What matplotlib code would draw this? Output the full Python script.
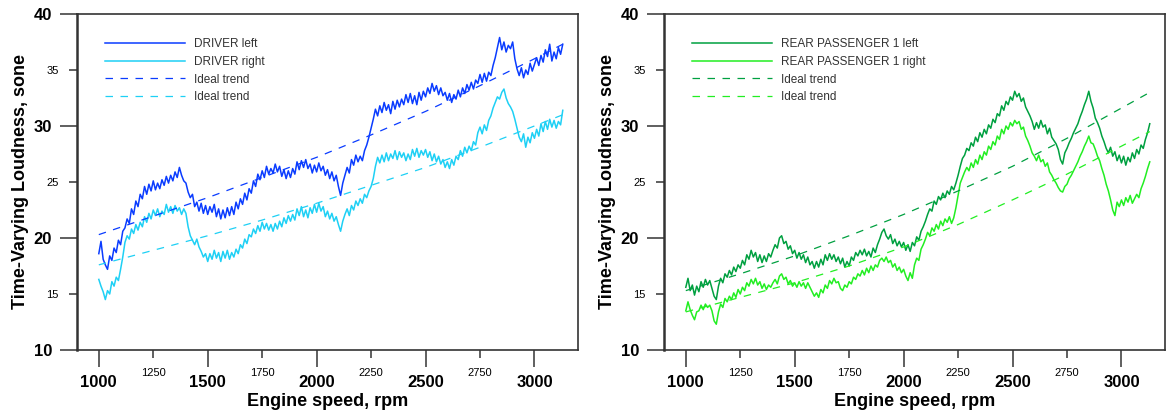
"""
Time-varying loudness vs engine speed for the driver and rear passenger 1
seats, left and right ear, with the ideal (target) trend for each.
"""

import numpy as np
import matplotlib.pyplot as plt

plt.rcParams["font.family"] = ["Liberation Sans", "DejaVu Sans"]

# ---------------------------------------------------------------------------
# Data (10 rpm steps from 1000 rpm)
# ---------------------------------------------------------------------------

rpm = np.arange(1000, 3131, 10)

driver_left = [
    18.6, 19.7, 18.1, 17.6, 17.2, 18.4, 18.0, 19.1, 18.7, 19.8,
    19.4, 20.6, 20.9, 21.7, 21.3, 22.6, 22.1, 23.3, 22.8, 23.9,
    23.5, 24.6, 23.9, 24.8, 24.2, 25.1, 24.3, 24.9, 24.4, 25.2,
    24.7, 25.5, 24.9, 25.6, 25.1, 25.9, 25.4, 26.3, 25.6, 25.1,
    24.9, 24.1, 23.6, 23.9, 22.8, 23.2, 22.4, 23.1, 22.2, 22.9,
    22.1, 22.8, 22.3, 23.0, 21.9, 22.6, 21.7, 22.5, 21.8, 22.7,
    22.0, 22.8, 22.1, 23.2, 22.6, 23.5, 23.0, 24.0, 23.4, 24.4,
    24.0, 25.1, 24.6, 25.7, 25.2, 26.0, 25.4, 26.4, 25.7, 26.2,
    25.8, 26.6, 25.9, 26.4, 25.5, 26.1, 25.3, 26.0, 25.4, 26.2,
    25.7, 26.8, 26.1, 26.9, 26.3, 27.0, 26.2, 26.6, 25.8, 26.5,
    25.9, 26.7, 26.0, 26.4, 25.6, 26.1, 25.3, 25.9, 25.1, 25.6,
    24.6, 23.8, 24.9, 25.6, 26.3, 25.8, 27.0, 26.5, 27.4, 26.8,
    27.3, 26.9, 27.8, 28.3, 29.0, 29.8, 30.6, 31.5, 30.9, 31.8,
    31.2, 32.1, 31.4, 31.9, 31.1, 32.2, 31.5, 32.3, 31.7, 32.4,
    31.9, 32.8, 32.1, 32.9, 32.0, 32.7, 31.9, 33.0, 32.3, 33.1,
    32.6, 33.4, 32.9, 33.8, 33.1, 33.6, 32.8, 33.4, 32.7, 33.0,
    32.3, 32.9, 32.1, 32.8, 32.4, 33.2, 32.6, 33.4, 32.9, 33.7,
    33.2, 33.9, 33.3, 34.1, 33.8, 34.6, 33.9, 34.7, 34.0, 34.8,
    34.5, 35.4, 36.1, 37.0, 37.9, 36.8, 37.5, 36.6, 37.2, 36.9,
    37.5, 36.0, 35.1, 34.5, 35.2, 34.3, 35.0, 34.6, 35.6, 34.9,
    35.5, 36.1, 35.4, 36.3, 35.7, 36.8, 36.2, 37.3, 35.8, 36.6,
    36.0, 37.0, 36.4, 37.3,
]

driver_right = [
    16.3, 15.7, 15.2, 14.5, 15.3, 15.0, 16.1, 15.7, 16.5, 16.2,
    17.2, 18.3, 19.6, 20.2, 19.9, 20.8, 20.4, 21.2, 20.7, 21.4,
    21.0, 21.9, 21.4, 22.2, 21.7, 22.5, 22.0, 22.6, 21.9, 22.4,
    22.1, 23.0, 22.3, 22.8, 22.2, 22.9, 22.4, 22.7, 22.1, 22.6,
    22.2, 21.0, 20.2, 19.8, 19.4, 19.9, 19.2, 18.8, 18.3, 18.6,
    17.9, 18.6, 18.1, 18.9, 18.2, 18.7, 17.9, 18.8, 18.2, 18.9,
    18.1, 18.7, 18.3, 19.0, 18.6, 19.4, 19.1, 19.9, 19.5, 20.3,
    20.1, 20.8, 20.4, 21.1, 20.6, 21.4, 20.8, 21.3, 20.7, 21.2,
    20.6, 21.3, 20.8, 21.5, 21.0, 21.8, 21.3, 22.0, 21.5, 22.1,
    21.6, 22.6, 22.0, 22.8, 21.9, 22.5, 21.8, 22.7, 22.2, 23.0,
    22.3, 23.1, 22.4, 22.8, 21.9, 22.4, 21.7, 22.2, 21.5, 21.9,
    21.2, 20.6, 21.5, 22.1, 22.6, 22.0, 22.9, 22.5, 23.3, 22.9,
    23.5, 23.1, 23.9, 23.6, 24.2, 24.6, 25.3, 26.4, 27.2, 26.7,
    27.4, 26.8, 27.6, 26.9, 27.5, 27.1, 27.8, 27.0, 27.7, 27.2,
    27.6, 26.9, 27.5, 27.0, 27.9, 27.3, 28.0, 27.2, 27.8, 27.4,
    27.9, 27.2, 27.7, 26.9, 27.5, 26.8, 27.3, 26.6, 27.0, 26.3,
    26.8, 26.2, 27.0, 26.5, 27.3, 27.0, 27.8, 27.3, 28.1, 27.6,
    28.2, 27.8, 28.6, 28.3, 29.4, 29.9, 29.3, 30.1, 29.6, 30.5,
    30.9, 31.6, 32.1, 32.6, 32.4, 33.0, 33.3, 32.5, 32.0, 31.7,
    31.3, 30.6, 29.8, 29.0, 28.6, 29.3, 28.1, 29.0, 28.5, 29.4,
    28.9, 29.7, 29.1, 30.2, 29.5, 30.4, 29.7, 30.6, 29.9, 30.5,
    29.8, 30.4, 30.1, 31.4,
]

rear_left = [
    15.6, 16.4, 15.3, 15.8, 14.9, 15.7, 15.2, 16.1, 15.6, 16.3,
    15.8, 16.2, 15.5, 14.8, 14.5, 15.7, 16.4, 16.0, 16.8, 16.5,
    17.1, 16.7, 17.4, 17.0, 17.6, 17.3, 18.0, 17.6, 18.5, 18.1,
    18.9, 18.3, 18.7, 17.9, 18.5, 17.8, 18.4, 17.9, 18.6, 18.3,
    18.9, 19.4, 19.1, 20.0, 20.2, 19.5, 19.7, 19.0, 19.3, 18.6,
    18.9, 18.2, 18.7, 18.1, 18.5, 17.8, 18.3, 17.6, 17.9, 17.3,
    17.9, 17.4, 18.1, 17.6, 18.5, 18.0, 18.6, 18.1, 18.5, 17.9,
    18.3, 17.7, 18.2, 17.4, 17.9, 17.5, 18.3, 18.0, 18.7, 18.4,
    18.9, 18.5, 19.0, 18.4, 18.8, 18.3, 19.1, 18.7, 19.4, 19.9,
    20.5, 20.8, 20.2, 19.9, 20.3, 19.5, 19.9, 19.3, 19.7, 19.2,
    19.6, 18.9, 19.4, 18.8, 19.6, 19.3, 20.1, 19.8, 20.6, 21.0,
    21.5, 22.1, 22.6, 22.4, 23.3, 23.0, 23.7, 23.4, 24.0, 23.6,
    24.2, 23.9, 24.6, 24.3, 24.9, 25.6, 26.4, 27.1, 27.4, 28.0,
    27.8, 28.5, 28.2, 29.0, 28.6, 29.4, 29.0, 29.7, 29.3, 30.1,
    29.8, 30.6, 30.3, 31.1, 30.9, 31.8, 31.4, 32.2, 31.9, 32.6,
    32.3, 33.1, 32.6, 32.9, 32.2, 32.5, 31.7, 31.3, 30.9, 30.4,
    29.7, 30.3, 29.8, 30.5, 29.9, 30.1, 29.3, 29.8, 29.0, 28.7,
    28.4, 27.9, 27.0, 26.6, 27.6, 28.0, 28.5, 28.9, 29.4, 29.8,
    30.2, 30.8, 31.3, 31.9, 32.4, 33.1, 32.2, 31.6, 30.7, 30.3,
    29.8, 29.1, 28.6, 28.0, 27.6, 28.1, 27.3, 27.7, 26.9, 27.4,
    26.7, 27.3, 26.5, 27.2, 26.8, 27.6, 27.1, 27.9, 27.5, 28.3,
    28.0, 28.8, 29.4, 30.2,
]

rear_right = [
    13.5, 14.3, 13.6, 13.1, 12.7, 13.4, 13.5, 14.0, 13.6, 14.1,
    13.8, 14.0, 13.5, 12.6, 12.3, 13.4, 14.1, 13.8, 14.6, 14.3,
    14.8, 14.5, 15.1, 14.7, 15.4, 15.0, 15.6, 15.3, 16.0, 15.7,
    16.3, 15.9, 16.4, 15.8, 16.1, 15.5, 15.9, 15.4, 15.8, 15.6,
    16.0, 16.3, 15.9, 16.6, 16.8, 16.3, 16.5, 15.9, 16.2, 15.7,
    16.0, 15.6, 16.1, 15.7, 16.0, 15.5, 16.0, 15.6, 15.2, 14.8,
    15.1, 14.7, 15.4, 15.1, 15.8, 15.5, 16.2, 15.9, 16.4, 16.0,
    16.1, 15.5, 15.3, 15.8, 15.6, 16.1, 15.9, 16.5, 16.3, 16.8,
    16.6, 17.1, 16.7, 17.3, 16.9, 17.5, 17.1, 17.6, 17.4, 18.0,
    18.2, 17.9, 18.3, 17.8, 18.0, 17.4, 17.7, 17.1, 17.4, 16.9,
    17.2, 16.6, 16.2, 16.9, 16.4, 17.6, 18.2, 18.0, 19.0, 19.4,
    19.9, 20.5, 20.2, 20.9, 20.6, 21.2, 20.8, 21.5, 21.1, 21.7,
    21.4, 21.9, 21.3, 21.8, 22.7, 23.8, 24.9, 25.4, 25.9, 26.3,
    26.0, 26.7, 26.3, 27.0, 26.6, 27.4, 27.0, 27.7, 27.4, 28.2,
    27.9, 28.6, 28.3, 29.1, 28.8, 29.7, 29.3, 30.0, 29.7, 30.3,
    30.0, 30.5, 30.2, 30.4, 29.7, 29.9, 29.1, 28.7, 28.2, 27.6,
    27.3, 26.9, 27.4, 26.8, 27.0, 26.4, 26.7, 25.9, 25.6, 25.2,
    24.9, 24.5, 24.2, 24.1, 24.6, 24.8, 25.3, 25.6, 26.0, 26.4,
    26.8, 27.3, 27.7, 28.2, 28.6, 29.1, 28.5, 28.4, 27.9, 27.3,
    26.9, 26.2, 25.6, 24.8, 24.2, 23.4, 22.5, 22.0, 23.2, 22.8,
    23.4, 22.9, 23.6, 23.2, 23.8, 23.1, 23.5, 23.9, 23.6, 24.4,
    24.9, 25.5, 26.2, 26.8,
]

# Ideal trend curves, read every 250 rpm
trend_rpm = [1000, 1250, 1500, 1750, 2000, 2250, 2500, 2750, 3000, 3130]
driver_left_trend = [20.3, 21.95, 23.6, 25.4, 27.2, 29.2, 31.3, 33.6, 36.0, 37.3]
driver_right_trend = [17.6, 18.9, 20.2, 21.6, 23.1, 24.7, 26.3, 28.1, 30.0, 31.0]
rear_left_trend = [15.3, 16.8, 18.4, 20.2, 22.1, 24.2, 26.4, 28.9, 31.6, 33.0]
rear_right_trend = [13.4, 14.7, 16.0, 17.5, 19.2, 21.2, 23.4, 25.7, 28.2, 29.5]

# Tick positions: major ticks get big bold labels, minor ones small labels
x_major = [1000, 1500, 2000, 2500, 3000]
x_minor = [1250, 1750, 2250, 2750]
y_major = [10, 20, 30, 40]
y_minor = [15, 25, 35]

BLUE = "#0a3cff"
CYAN = "#1ed0f5"
DGREEN = "#00a040"
LGREEN = "#22ee22"


# ---------------------------------------------------------------------------
# Helper: one loudness panel
# ---------------------------------------------------------------------------

def draw_panel(ax, left, right, left_trend, right_trend, names, colors):
    c_left, c_right = colors
    ax.plot(rpm, left, color=c_left, linewidth=1.1, label=names[0])
    ax.plot(rpm, right, color=c_right, linewidth=1.1, label=names[1])
    ax.plot(trend_rpm, left_trend, color=c_left, linewidth=0.9,
            linestyle=(0, (6, 6)), label="Ideal trend")
    ax.plot(trend_rpm, right_trend, color=c_right, linewidth=0.9,
            linestyle=(0, (6, 6)), label="Ideal trend")

    ax.set_xlim(900, 3200)
    ax.set_ylim(10, 40)

    ax.set_xticks(x_major)
    ax.set_xticklabels([str(v) for v in x_major])
    ax.set_xticks(x_minor, minor=True)
    ax.set_xticklabels([str(v) for v in x_minor], minor=True)
    ax.set_yticks(y_major)
    ax.set_yticklabels([str(v) for v in y_major])
    ax.set_yticks(y_minor, minor=True)
    ax.set_yticklabels([str(v) for v in y_minor], minor=True)

    ax.tick_params(which="major", direction="out", length=12, width=1.2,
                   color="#444444", labelsize=12, pad=6)
    ax.tick_params(which="minor", direction="out", length=6, width=1.2,
                   color="#444444", labelsize=8, pad=7)
    for lbl in ax.get_xticklabels() + ax.get_yticklabels():
        lbl.set_fontweight("bold")

    for side in ["top", "right", "bottom"]:
        ax.spines[side].set_linewidth(1.2)
        ax.spines[side].set_color("#333333")
    ax.spines["left"].set_linewidth(1.8)
    ax.spines["left"].set_color("#333333")

    ax.set_xlabel("Engine speed, rpm", fontsize=13, fontweight="bold", labelpad=2)
    ax.set_ylabel("Time-Varying Loudness, sone", fontsize=13, fontweight="bold",
                  labelpad=3)

    leg = ax.legend(loc="upper left", bbox_to_anchor=(0.046, 0.942), frameon=False,
                    fontsize=8.5, handlelength=6.8, handletextpad=0.76,
                    labelspacing=0.48, borderaxespad=0)
    for t in leg.get_texts():
        t.set_color("#333333")


# ---------------------------------------------------------------------------
# Main
# ---------------------------------------------------------------------------

fig = plt.figure(figsize=(11.67, 4.16), dpi=100)
ax1 = fig.add_axes([0.066, 0.1587, 0.4293, 0.8077])
ax2 = fig.add_axes([0.569, 0.1587, 0.4293, 0.8077])

draw_panel(ax1, driver_left, driver_right, driver_left_trend, driver_right_trend,
           ["DRIVER left", "DRIVER right"], (BLUE, CYAN))
draw_panel(ax2, rear_left, rear_right, rear_left_trend, rear_right_trend,
           ["REAR PASSENGER 1 left", "REAR PASSENGER 1 right"], (DGREEN, LGREEN))

fig.savefig("out.png", dpi=100)
